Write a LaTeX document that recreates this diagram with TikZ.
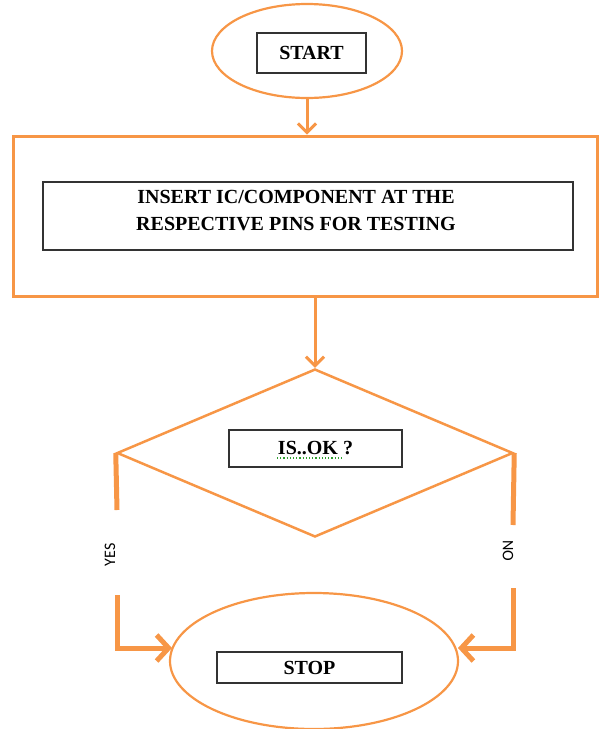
\documentclass[tikz,border=0pt]{standalone}
\usepackage{fontspec}
\setmainfont{Liberation Serif}
\newfontfamily\lblfont{Carlito}
\usetikzlibrary{shapes.geometric,arrows.meta}
\definecolor{org}{HTML}{F79646}
\definecolor{spell}{HTML}{2E9E2E}
\tikzset{
  term/.style={ellipse, draw=org, line width=2.2pt, inner sep=0pt},
  txtbox/.style={draw=black!80, line width=1.2pt, inner sep=0pt, align=center, font=\bfseries\fontsize{20}{28}\selectfont},
  flow/.style={draw=org, line width=3pt, -{Straight Barb[length=9pt,width=18pt,line width=3pt]}},
  branch/.style={draw=org, line width=5pt, line cap=butt},
  barb/.style={draw=org, line width=5pt, -{Straight Barb[length=12pt,width=26pt,line width=5pt]}},
  lbl/.style={font=\lblfont\fontsize{16}{16}\selectfont, inner sep=0pt}
}
\begin{document}
\begin{tikzpicture}[x=1pt,y=-1pt]
\useasboundingbox (0,0) rectangle (600,729);
% start
\node[term, minimum width=190pt, minimum height=94pt] (start) at (307,51) {};
\node[txtbox, minimum width=109pt, minimum height=40pt] (starttxt) at (311.5,53) {START};
% process
\node[draw=org, line width=3pt, minimum width=584pt, minimum height=160pt, inner sep=0pt] (proc) at (305,216) {};
\node[txtbox, minimum width=530pt, minimum height=68pt] (proctxt) at (308,216) {};
\node[inner sep=0pt, align=center, font=\bfseries\fontsize{20}{28}\selectfont] (proclabel) at (296,210.5)
  {INSERT IC/COMPONENT AT THE\\[-1pt]RESPECTIVE PINS FOR TESTING};
% decision
\node[diamond, draw=org, line width=2.5pt, inner sep=0pt, aspect=2.36, minimum width=396pt, minimum height=168pt] (dec) at (315,453) {};
\node[txtbox, minimum width=173pt, minimum height=37pt] (dectxt) at (315.5,448.5) {IS..OK ?};
\coordinate (sqA) at (277,458);
\coordinate (sqB) at (342,458);
\draw[spell, line width=1.2pt, dotted] (sqA) -- (sqB);
% stop
\node[term, minimum width=288pt, minimum height=136pt] (stop) at (314,661) {};
\node[txtbox, minimum width=185pt, minimum height=31pt] (stoptxt) at (309.5,667.5) {STOP};
% connectors
\draw[flow] (start.south) -- (proc.north -| start.south);
\draw[flow] (proc.south -| dec.north) -- (dec.north);
% YES branch
\coordinate (yesEnd) at (117,510);
\coordinate (yesStart) at (117,595);
\coordinate (yesTip) at (172,648);
\draw[branch] (dec.west) -- (yesEnd);
\node[lbl, rotate=90] (yes) at (110,555) {YES};
\draw[barb] (yesStart) |- (yesTip);
% NO branch
\coordinate (noEnd) at (513,525);
\coordinate (noStart) at (513,588);
\coordinate (noTip) at (458,648);
\draw[branch] (dec.east) -- (noEnd);
\node[lbl, rotate=-90] (no) at (508,551) {NO};
\draw[barb] (noStart) |- (noTip);
\end{tikzpicture}
\end{document}
